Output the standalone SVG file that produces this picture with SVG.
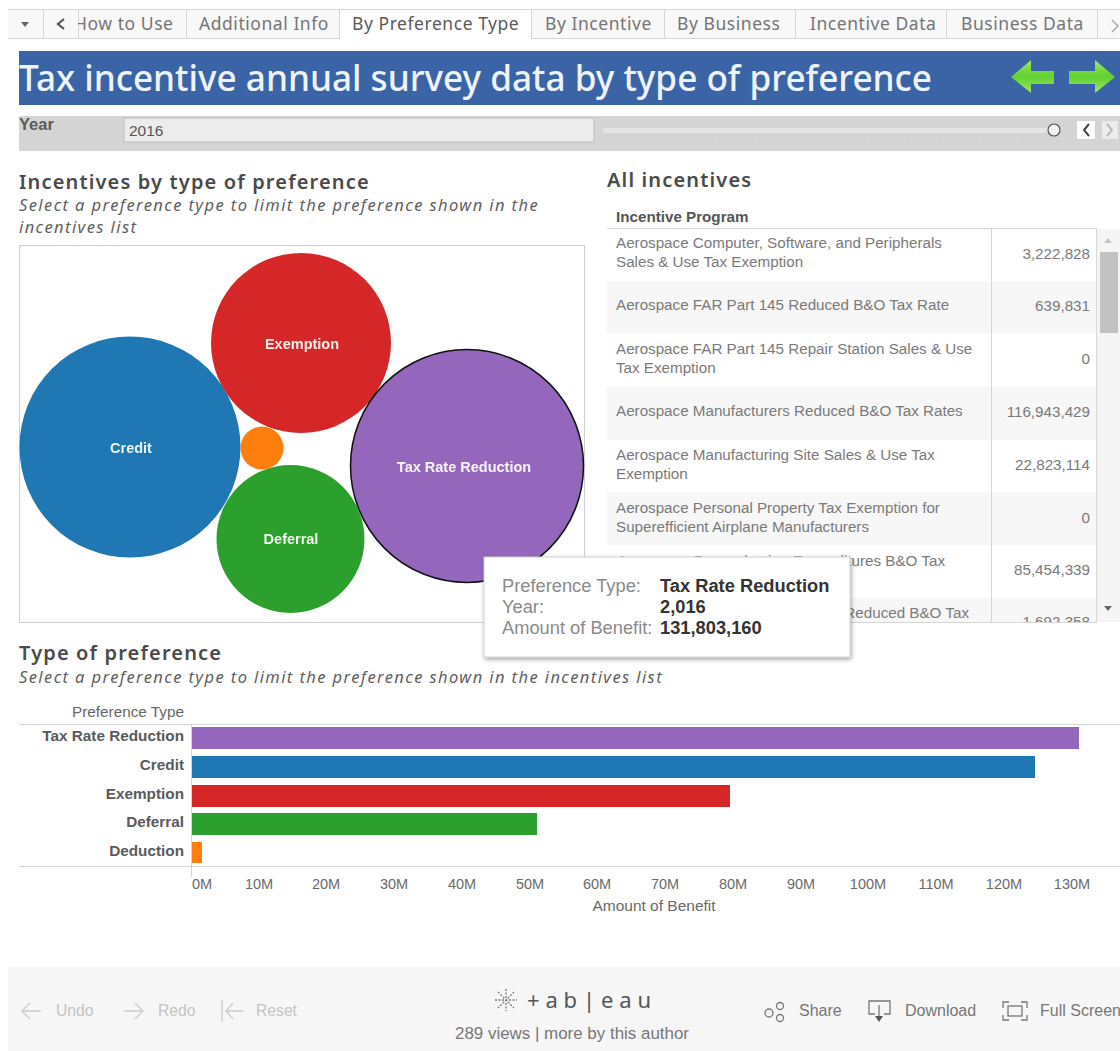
<svg xmlns="http://www.w3.org/2000/svg" width="1120" height="1051" viewBox="0 0 1120 1051">
<style>
text{font-family:"Liberation Sans",Arial,sans-serif}
.tab{font-family:"Noto Sans","Open Sans",sans-serif;font-size:17.5px;letter-spacing:.55px;fill:#757575}
.head{font-family:"Noto Sans","Open Sans",sans-serif;font-size:20px;font-weight:600;letter-spacing:1.15px;fill:#4a4a4a}
.sub{font-family:"Noto Sans","Open Sans",sans-serif;font-size:16.5px;font-style:italic;letter-spacing:1.4px;fill:#5f5f5f}
.row{font-size:15.2px;fill:#7a7a7a}
.num{font-size:15.2px;fill:#7a7a7a;text-anchor:end}
.bub{font-size:14.5px;font-weight:bold;fill:#fff;text-anchor:middle;opacity:.92}
.cat{font-size:15.3px;font-weight:bold;fill:#5a5a5a;text-anchor:end}
.ax{font-size:14.5px;fill:#6a6a6a;text-anchor:middle}
.tipk{font-size:18.3px;fill:#8a8a8a}
.tipv{font-size:18.3px;font-weight:bold;fill:#333}
.foot{font-size:15.7px;fill:#c4c4c4}
.foot2{font-size:16px;fill:#777}
.ln{fill:none;stroke:#d6d6d6;stroke-width:1}
.ic{fill:none;stroke:#777;stroke-width:1.3}
.icl{fill:none;stroke:#cccccc;stroke-width:1.3}
</style>
<defs>
<filter id="sh" x="-5%" y="-5%" width="110%" height="115%"><feDropShadow dx="1" dy="2" stdDeviation="2" flood-color="#000" flood-opacity=".35"/></filter>
<clipPath id="tbl"><rect x="607" y="229" width="490" height="393"/></clipPath>
<linearGradient id="gr" x1="0" y1="0" x2="0" y2="1"><stop offset="0" stop-color="#9be86a"/><stop offset=".5" stop-color="#62d02f"/><stop offset="1" stop-color="#9be86a"/></linearGradient>
</defs>
<rect width="1120" height="1051" fill="#fff"/>

<g id="tabs">
<rect x="8" y="9" width="1112" height="30" fill="#f8f8f8"/>
<path class="ln" d="M8 9.500H1120M8 38.500H339M532 38.500H1120M43.500 9V39M78.500 9V39M186.500 9V39M339.500 9V39M531.500 9V39M664.500 9V39M795.500 9V39M946.500 9V39M1097.500 9V39"/>
<rect x="340" y="10" width="191" height="29" fill="#fff"/>
<path d="M21 22h8l-4 5z" fill="#666"/>
<path d="M64 19l-6 5 6 5" fill="none" stroke="#555" stroke-width="2.200"/>
<text class="tab" x="74" y="30">How to Use</text>
<rect x="68" y="12" width="10" height="24" fill="#f8f8f8"/>
<text class="tab" x="199" y="30">Additional Info</text>
<text class="tab" x="352" y="30" style="fill:#5a5a5a">By Preference Type</text>
<text class="tab" x="545" y="30">By Incentive</text>
<text class="tab" x="677" y="30">By Business</text>
<text class="tab" x="810" y="30">Incentive Data</text>
<text class="tab" x="961" y="30">Business Data</text>
<path d="M1112 20l6 6-6 6" fill="none" stroke="#aaa" stroke-width="1.500"/>
</g>

<g id="banner">
<rect x="19" y="51" width="1101" height="54" fill="#3b64a6"/>
<text x="19" y="91" font-size="36" font-weight="500" style="font-family:'Noto Sans','Open Sans',sans-serif" fill="#eef3fb" textLength="913" lengthAdjust="spacingAndGlyphs">Tax incentive annual survey data by type of preference</text>
<path d="M1011 77l20-17v11h23v13h-23v9z" fill="url(#gr)"/>
<path d="M1115 77l-20-17v11h-26v13h26v9z" fill="url(#gr)"/>
</g>

<g id="year-filter">
<rect x="19" y="116" width="1101" height="35" fill="#d4d4d4"/>
<text x="19" y="130" font-size="16.500" font-weight="bold" fill="#5a5a5a">Year</text>
<rect x="124" y="118" width="470" height="24" fill="#ececec" stroke="#bdbdbd"/>
<text x="129" y="136" font-size="15.500" fill="#555">2016</text>
<rect x="603" y="128" width="450" height="5" rx="2.500" fill="#e4e4e4"/>
<path d="M640 140v2M680 140v2M717 140v2M755 140v2M792 140v2M830 140v2M868 140v2M905 140v2M943 140v2M980 140v2M1018 140v2M1054 140v2" stroke="#dedede" stroke-width="1"/>
<circle cx="1054" cy="130" r="6" fill="#f2f2f2" stroke="#555" stroke-width="1.200"/>
<rect x="1077" y="121" width="18" height="18" fill="#fff"/>
<path d="M1089 124l-5 6 5 6" fill="none" stroke="#444" stroke-width="2"/>
<rect x="1102" y="121" width="16" height="18" fill="#ececec"/>
<path d="M1107 124l5 6-5 6" fill="none" stroke="#bbb" stroke-width="2"/>
</g>

<g id="bubble-title">
<text class="head" x="19" y="189">Incentives by type of preference</text>
<text class="sub" x="19" y="211">Select a preference type to limit the preference shown in the</text>
<text class="sub" x="19" y="233">incentives list</text>
</g>

<rect x="19.500" y="245.500" width="565" height="377" fill="#fff" stroke="#cfcfcf"/>

<g id="bubble-credit"><circle cx="130" cy="447" r="110.500" fill="#1f77b4"/><text class="bub" x="131" y="453">Credit</text></g>
<g id="bubble-exemption"><circle cx="301" cy="343" r="90" fill="#d62728"/><text class="bub" x="302" y="349">Exemption</text></g>
<g id="bubble-reduction"><circle cx="467" cy="466" r="116.500" fill="#9467bd" stroke="#111" stroke-width="1.500"/><text class="bub" x="464" y="472">Tax Rate Reduction</text></g>
<g id="bubble-deferral"><circle cx="290.500" cy="539" r="74" fill="#2ca02c"/><text class="bub" x="291" y="544">Deferral</text></g>
<g id="bubble-deduction"><circle cx="262" cy="448" r="21.500" fill="#ff7f0e"/></g>

<g id="incentive-table">
<text class="head" x="607" y="187">All incentives</text>
<text x="616" y="222" font-size="15.200" font-weight="bold" fill="#555">Incentive Program</text>
<path class="ln" d="M607 228.500H1096"/>
<g clip-path="url(#tbl)">
<rect x="607" y="281" width="384" height="52" fill="#f7f7f7"/><rect x="992" y="281" width="105" height="52" fill="#f7f7f7"/>
<rect x="607" y="387" width="384" height="53" fill="#f7f7f7"/><rect x="992" y="387" width="105" height="53" fill="#f7f7f7"/>
<rect x="607" y="492" width="384" height="53" fill="#f7f7f7"/><rect x="992" y="492" width="105" height="53" fill="#f7f7f7"/>
<rect x="607" y="598" width="384" height="30" fill="#f7f7f7"/><rect x="992" y="598" width="105" height="30" fill="#f7f7f7"/>
<text class="row" x="616" y="248">Aerospace Computer, Software, and Peripherals</text>
<text class="row" x="616" y="267">Sales &amp; Use Tax Exemption</text>
<text class="num" x="1090" y="259">3,222,828</text>
<text class="row" x="616" y="310">Aerospace FAR Part 145 Reduced B&amp;O Tax Rate</text>
<text class="num" x="1090" y="311">639,831</text>
<text class="row" x="616" y="354">Aerospace FAR Part 145 Repair Station Sales &amp; Use</text>
<text class="row" x="616" y="373">Tax Exemption</text>
<text class="num" x="1090" y="364">0</text>
<text class="row" x="616" y="416">Aerospace Manufacturers Reduced B&amp;O Tax Rates</text>
<text class="num" x="1090" y="417">116,943,429</text>
<text class="row" x="616" y="460">Aerospace Manufacturing Site Sales &amp; Use Tax</text>
<text class="row" x="616" y="479">Exemption</text>
<text class="num" x="1090" y="470">22,823,114</text>
<text class="row" x="616" y="513">Aerospace Personal Property Tax Exemption for</text>
<text class="row" x="616" y="532">Superefficient Airplane Manufacturers</text>
<text class="num" x="1090" y="523">0</text>
<text class="row" x="945" y="566" style="text-anchor:end">Aerospace Preproduction Expenditures B&amp;O Tax</text>
<text class="num" x="1090" y="575">85,454,339</text>
<text class="row" x="969" y="618" style="text-anchor:end">Reduced B&amp;O Tax</text>
<text class="num" x="1090" y="627">1,692,358</text>
</g>
<path class="ln" d="M991.500 228V622M1096.500 228V622M607 622.500H1097"/>
<rect x="1097" y="229" width="23" height="393" fill="#f5f5f5"/>
<path d="M1104 243l4-5 4 5z" fill="#c4c4c4"/>
<rect x="1100" y="252" width="18" height="81" fill="#c2c2c2"/>
<path d="M1104 606l4 5 4-5z" fill="#666"/>
</g>

<g id="tooltip">
<rect x="484" y="557" width="366" height="100" fill="#fff" stroke="#d0d0d0" filter="url(#sh)"/>
<text class="tipk" x="502" y="592">Preference Type:</text>
<text class="tipv" x="660" y="592">Tax Rate Reduction</text>
<text class="tipk" x="502" y="613">Year:</text>
<text class="tipv" x="660" y="613">2,016</text>
<text class="tipk" x="502" y="634">Amount of Benefit:</text>
<text class="tipv" x="660" y="634">131,803,160</text>
</g>

<g id="bar-title">
<text class="head" x="19" y="660">Type of preference</text>
<text class="sub" x="19" y="683">Select a preference type to limit the preference shown in the incentives list</text>
</g>

<g id="bar-chart">
<text x="184" y="717" font-size="15.300" fill="#666" text-anchor="end">Preference Type</text>
<path class="ln" d="M19 724.500H1120M19 866.500H1120M191.500 724V877"/>
<text class="cat" x="184" y="741">Tax Rate Reduction</text>
<text class="cat" x="184" y="770">Credit</text>
<text class="cat" x="184" y="799">Exemption</text>
<text class="cat" x="184" y="827">Deferral</text>
<text class="cat" x="184" y="856">Deduction</text>
<rect x="192" y="727" width="887" height="22" fill="#9467bd"/>
<rect x="192" y="756" width="843" height="22" fill="#1f77b4"/>
<rect x="192" y="785" width="538" height="22" fill="#d62728"/>
<rect x="192" y="813" width="345" height="22" fill="#2ca02c"/>
<rect x="192" y="842" width="10" height="21" fill="#ff7f0e"/>
<text class="ax" x="202" y="889">0M</text>
<text class="ax" x="259" y="889">10M</text>
<text class="ax" x="326" y="889">20M</text>
<text class="ax" x="394" y="889">30M</text>
<text class="ax" x="462" y="889">40M</text>
<text class="ax" x="530" y="889">50M</text>
<text class="ax" x="597" y="889">60M</text>
<text class="ax" x="665" y="889">70M</text>
<text class="ax" x="733" y="889">80M</text>
<text class="ax" x="801" y="889">90M</text>
<text class="ax" x="868" y="889">100M</text>
<text class="ax" x="936" y="889">110M</text>
<text class="ax" x="1004" y="889">120M</text>
<text class="ax" x="1072" y="889">130M</text>
<text class="ax" x="654" y="911" style="font-size:15.500px">Amount of Benefit</text>
</g>

<g id="toolbar">
<rect x="8" y="967" width="1112" height="84" fill="#f6f6f6"/>
<path class="icl" d="M41 1011H22M30 1003l-8 8 8 8"/>
<text class="foot" x="56" y="1016">Undo</text>
<path class="icl" d="M124 1011H143M135 1003l8 8-8 8"/>
<text class="foot" x="158" y="1016">Redo</text>
<path class="icl" d="M222 1000V1022M243 1011H226M233 1003l-7 8 7 8"/>
<text class="foot" x="256" y="1016">Reset</text>
<g class="ic" stroke-dasharray="2 1.500"><path d="M506 989V1011M495 1000H517M498 992l16 16M514 992l-16 16"/></g>
<text x="527" y="1008" font-size="22" fill="#555" style="font-family:'Noto Sans',sans-serif" textLength="124">+ a b | e a u</text>
<text class="foot2" x="455" y="1039" textLength="234" lengthAdjust="spacingAndGlyphs">289 views | more by this author</text>
<circle class="ic" cx="769" cy="1013" r="4"/><circle class="ic" cx="780" cy="1006" r="3.500"/><circle class="ic" cx="780" cy="1018" r="3.500"/>
<text class="foot2" x="799" y="1016">Share</text>
<path class="ic" d="M875 1014h-6v-13h21v13h-6M879 1005v14"/><path d="M875 1016h8l-4 6z" fill="#555"/>
<text class="foot2" x="905" y="1016">Download</text>
<path class="ic" d="M1003 1008v-6h6M1021 1002h6v6M1027 1015v5h-6M1009 1020h-6v-5"/><rect class="ic" x="1008" y="1006" width="14" height="10"/>
<text class="foot2" x="1040" y="1016">Full Screen</text>
</g>
</svg>
